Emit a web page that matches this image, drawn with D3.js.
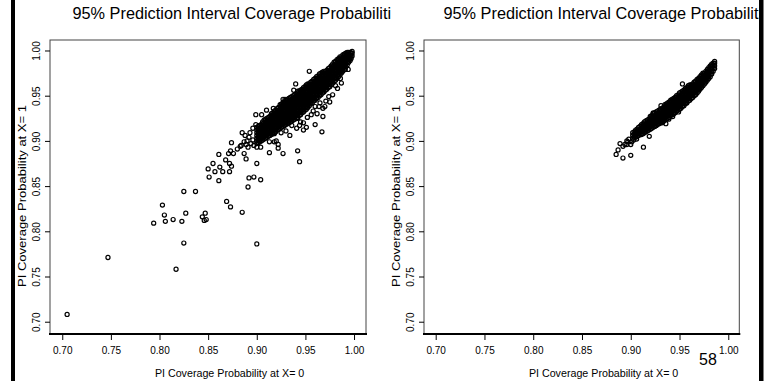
<!DOCTYPE html>
<html>
<head>
<meta charset="utf-8">
<script src="https://cdn.jsdelivr.net/npm/d3@7"></script>
<style>
  body { margin: 0; background: #fff; }
</style>
</head>
<body>
<svg id="chart" width="773" height="381"></svg>
<script>
const tickValues = [0.70, 0.75, 0.80, 0.85, 0.90, 0.95, 1.00];
const titleText = '95% Prediction Interval Coverage Probabilities';
const xLabel = 'PI Coverage Probability at X= 0';
const yLabel = 'PI Coverage Probability at X= 1';
const pageNumber = '58';

// left panel: loose points [x, y]
const leftPoints = [
  [0.705,0.708],[0.747,0.771],[0.794,0.809],[0.803,0.829],[0.805,0.818],[0.806,0.811],[0.814,0.813],
  [0.817,0.758],[0.823,0.811],[0.825,0.844],[0.825,0.787],[0.827,0.820],[0.837,0.844],[0.844,0.816],
  [0.846,0.812],[0.847,0.820],[0.848,0.813],[0.850,0.869],[0.851,0.860],[0.855,0.875],[0.857,0.866],
  [0.861,0.856],[0.861,0.885],[0.862,0.871],[0.865,0.866],[0.868,0.879],[0.869,0.833],[0.871,0.886],
  [0.872,0.866],[0.872,0.875],[0.873,0.827],[0.873,0.889],[0.874,0.872],[0.874,0.898],[0.876,0.886],
  [0.880,0.891],[0.883,0.894],[0.885,0.821],[0.885,0.909],[0.887,0.886],[0.888,0.906],[0.889,0.880],
  [0.889,0.896],[0.891,0.849],[0.892,0.859],[0.897,0.860],[0.900,0.786],[0.900,0.875],[0.900,0.893],
  [0.904,0.857],[0.904,0.893],[0.896,0.901],[0.896,0.914],[0.899,0.918],[0.899,0.929],[0.905,0.929],
  [0.910,0.934],[0.913,0.887],[0.913,0.899],[0.917,0.936],[0.918,0.899],[0.918,0.908],[0.920,0.900],
  [0.922,0.896],[0.922,0.892],[0.927,0.886],[0.927,0.946],[0.929,0.946],[0.924,0.918],[0.925,0.909],
  [0.932,0.924],[0.938,0.956],[0.940,0.963],[0.941,0.914],[0.942,0.889],[0.942,0.925],[0.944,0.877],
  [0.948,0.912],[0.948,0.920],[0.954,0.977],[0.956,0.929],[0.960,0.918],[0.960,0.938],[0.964,0.938],
  [0.965,0.942],[0.967,0.910],[0.968,0.927],[0.968,0.936],[0.970,0.938],[0.975,0.943],[0.978,0.951],
  [0.981,0.961],[0.987,0.964],[0.991,0.979],[0.994,0.979],
  [0.890,0.900],[0.892,0.904],[0.894,0.897],[0.893,0.909],[0.887,0.899],[0.884,0.895],[0.891,0.893],
  [0.897,0.895],[0.936,0.917],[0.945,0.921],[0.952,0.926],[0.958,0.933],[0.962,0.930],[0.971,0.944],
  [0.974,0.949],[0.983,0.958],[0.986,0.969],[0.930,0.911],[0.934,0.906],[0.951,0.915],[0.944,0.917]
];

// left panel: dense core, read column by column [x, [y, ...]]
const leftBand = [
  [0.900, [0.897,0.900,0.903,0.906,0.909,0.912,0.915]],
  [0.9015,[0.898,0.901,0.904,0.907,0.910,0.913,0.916]],
  [0.903, [0.899,0.902,0.905,0.908,0.911,0.914,0.917]],
  [0.9045,[0.900,0.903,0.906,0.909,0.912,0.915,0.918]],
  [0.906, [0.901,0.904,0.907,0.910,0.913,0.916,0.919,0.921]],
  [0.9075,[0.902,0.905,0.908,0.911,0.914,0.917,0.920,0.923]],
  [0.909, [0.903,0.906,0.909,0.912,0.915,0.918,0.921,0.924]],
  [0.9105,[0.904,0.907,0.910,0.913,0.916,0.919,0.922,0.925]],
  [0.912, [0.905,0.908,0.911,0.914,0.917,0.920,0.923,0.926]],
  [0.9135,[0.906,0.909,0.912,0.915,0.918,0.921,0.924,0.927]],
  [0.915, [0.907,0.910,0.913,0.916,0.919,0.922,0.925,0.928,0.930]],
  [0.9165,[0.908,0.911,0.914,0.917,0.920,0.923,0.926,0.929,0.931]],
  [0.918, [0.909,0.912,0.915,0.918,0.921,0.924,0.927,0.930,0.933]],
  [0.9195,[0.910,0.913,0.916,0.919,0.922,0.925,0.928,0.931,0.934]],
  [0.921, [0.912,0.915,0.918,0.921,0.924,0.927,0.930,0.933,0.936]],
  [0.9225,[0.913,0.916,0.919,0.922,0.925,0.928,0.931,0.934,0.937]],
  [0.924, [0.914,0.917,0.920,0.923,0.926,0.929,0.932,0.935,0.938,0.940]],
  [0.9255,[0.915,0.918,0.921,0.924,0.927,0.930,0.933,0.936,0.939,0.941]],
  [0.927, [0.916,0.919,0.922,0.925,0.928,0.931,0.934,0.937,0.940,0.942]],
  [0.9285,[0.917,0.920,0.923,0.926,0.929,0.932,0.935,0.938,0.941,0.943]],
  [0.930, [0.918,0.921,0.924,0.927,0.930,0.933,0.936,0.939,0.942,0.945]],
  [0.9315,[0.919,0.922,0.925,0.928,0.931,0.934,0.937,0.940,0.943,0.946]],
  [0.933, [0.920,0.923,0.926,0.929,0.932,0.935,0.938,0.941,0.944,0.947]],
  [0.9345,[0.921,0.924,0.927,0.930,0.933,0.936,0.939,0.942,0.945,0.948]],
  [0.936, [0.922,0.925,0.928,0.931,0.934,0.937,0.940,0.943,0.946,0.949]],
  [0.9375,[0.923,0.926,0.929,0.932,0.935,0.938,0.941,0.944,0.947,0.950]],
  [0.939, [0.924,0.927,0.930,0.933,0.936,0.939,0.942,0.945,0.948,0.951]],
  [0.9405,[0.925,0.928,0.931,0.934,0.937,0.940,0.943,0.946,0.949,0.952]],
  [0.942, [0.926,0.929,0.932,0.935,0.938,0.941,0.944,0.947,0.950,0.953,0.955]],
  [0.9435,[0.928,0.931,0.934,0.937,0.940,0.943,0.946,0.949,0.952,0.955]],
  [0.945, [0.929,0.932,0.935,0.938,0.941,0.944,0.947,0.950,0.953,0.956]],
  [0.9465,[0.931,0.934,0.937,0.940,0.943,0.946,0.949,0.952,0.955,0.957]],
  [0.948, [0.932,0.935,0.938,0.941,0.944,0.947,0.950,0.953,0.956,0.959]],
  [0.9495,[0.934,0.937,0.940,0.943,0.946,0.949,0.952,0.955,0.958,0.960]],
  [0.951, [0.935,0.938,0.941,0.944,0.947,0.950,0.953,0.956,0.959,0.962]],
  [0.9525,[0.937,0.940,0.943,0.946,0.949,0.952,0.955,0.958,0.961,0.963]],
  [0.954, [0.939,0.942,0.945,0.948,0.951,0.954,0.957,0.960,0.963]],
  [0.9555,[0.941,0.944,0.947,0.950,0.953,0.956,0.959,0.962,0.965]],
  [0.957, [0.942,0.945,0.948,0.951,0.954,0.957,0.960,0.963,0.966]],
  [0.9585,[0.944,0.947,0.950,0.953,0.956,0.959,0.962,0.965,0.968]],
  [0.960, [0.945,0.948,0.951,0.954,0.957,0.960,0.963,0.966,0.969]],
  [0.9615,[0.947,0.950,0.953,0.956,0.959,0.962,0.965,0.968,0.971]],
  [0.963, [0.948,0.951,0.954,0.957,0.960,0.963,0.966,0.969,0.972]],
  [0.9645,[0.950,0.953,0.956,0.959,0.962,0.965,0.968,0.971,0.974]],
  [0.966, [0.951,0.954,0.957,0.960,0.963,0.966,0.969,0.972,0.975]],
  [0.9675,[0.953,0.956,0.959,0.962,0.965,0.968,0.971,0.974,0.976]],
  [0.969, [0.954,0.957,0.960,0.963,0.966,0.969,0.972,0.975,0.977]],
  [0.9705,[0.956,0.959,0.962,0.965,0.968,0.971,0.974,0.977]],
  [0.972, [0.957,0.960,0.963,0.966,0.969,0.972,0.975,0.978]],
  [0.9735,[0.959,0.962,0.965,0.968,0.971,0.974,0.977,0.980]],
  [0.975, [0.960,0.963,0.966,0.969,0.972,0.975,0.978,0.981]],
  [0.9765,[0.962,0.965,0.968,0.971,0.974,0.977,0.980,0.983]],
  [0.978, [0.964,0.967,0.970,0.973,0.976,0.979,0.982,0.985]],
  [0.9795,[0.966,0.969,0.972,0.975,0.978,0.981,0.984,0.987]],
  [0.981, [0.967,0.970,0.973,0.976,0.979,0.982,0.985,0.988]],
  [0.9825,[0.969,0.972,0.975,0.978,0.981,0.984,0.987,0.990]],
  [0.984, [0.971,0.974,0.977,0.980,0.983,0.986,0.989,0.991]],
  [0.9855,[0.973,0.976,0.979,0.982,0.985,0.988,0.991,0.993]],
  [0.987, [0.975,0.978,0.981,0.984,0.987,0.990,0.993]],
  [0.9885,[0.977,0.980,0.983,0.986,0.989,0.992,0.995]],
  [0.990, [0.979,0.982,0.985,0.988,0.991,0.994,0.996]],
  [0.9915,[0.982,0.985,0.988,0.991,0.994,0.997]],
  [0.993, [0.984,0.987,0.990,0.993,0.996,0.998]],
  [0.9945,[0.987,0.990,0.993,0.996,0.998]],
  [0.996, [0.989,0.992,0.995,0.998]],
  [0.997, [0.991,0.994,0.997]],
  [0.998, [0.994,0.997,0.999]]
];

// right panel: loose points [x, y]
const rightPoints = [
  [0.885,0.885],[0.887,0.890],[0.892,0.881],[0.889,0.897],[0.892,0.894],[0.894,0.896],[0.896,0.896],
  [0.898,0.902],[0.900,0.896],[0.900,0.884],[0.901,0.899],[0.897,0.899],[0.896,0.900],[0.903,0.901],
  [0.906,0.902],[0.906,0.908],[0.913,0.893],[0.919,0.905],[0.923,0.931],[0.926,0.917],[0.931,0.939],
  [0.932,0.920],[0.933,0.921],[0.936,0.919],[0.939,0.924],[0.943,0.927],[0.949,0.932],[0.953,0.963],
  [0.957,0.943],[0.969,0.957]
];

// right panel: dense core [x, [y, ...]]
const rightBand = [
  [0.902, [0.903,0.906,0.909]],
  [0.9035,[0.904,0.907,0.910]],
  [0.905, [0.904,0.907,0.910,0.912]],
  [0.9065,[0.905,0.908,0.911,0.913]],
  [0.908, [0.906,0.909,0.912,0.915]],
  [0.9095,[0.907,0.910,0.913,0.916]],
  [0.911, [0.907,0.910,0.913,0.916,0.918]],
  [0.9125,[0.908,0.911,0.914,0.917,0.919]],
  [0.914, [0.909,0.912,0.915,0.918,0.921]],
  [0.9155,[0.910,0.913,0.916,0.919,0.922]],
  [0.917, [0.911,0.914,0.917,0.920,0.923]],
  [0.9185,[0.912,0.915,0.918,0.921,0.924]],
  [0.920, [0.913,0.916,0.919,0.922,0.925,0.927]],
  [0.9215,[0.914,0.917,0.920,0.923,0.926,0.928]],
  [0.923, [0.915,0.918,0.921,0.924,0.927,0.930]],
  [0.9245,[0.916,0.919,0.922,0.925,0.928,0.931]],
  [0.926, [0.917,0.920,0.923,0.926,0.929,0.932]],
  [0.9275,[0.918,0.921,0.924,0.927,0.930,0.933]],
  [0.929, [0.919,0.922,0.925,0.928,0.931,0.934]],
  [0.9305,[0.920,0.923,0.926,0.929,0.932,0.935]],
  [0.932, [0.921,0.924,0.927,0.930,0.933,0.936]],
  [0.9335,[0.922,0.925,0.928,0.931,0.934,0.937]],
  [0.935, [0.923,0.926,0.929,0.932,0.935,0.938,0.940]],
  [0.9365,[0.924,0.927,0.930,0.933,0.936,0.939,0.941]],
  [0.938, [0.925,0.928,0.931,0.934,0.937,0.940,0.942]],
  [0.9395,[0.926,0.929,0.932,0.935,0.938,0.941,0.943]],
  [0.941, [0.928,0.931,0.934,0.937,0.940,0.943,0.945]],
  [0.9425,[0.929,0.932,0.935,0.938,0.941,0.944,0.946]],
  [0.944, [0.930,0.933,0.936,0.939,0.942,0.945,0.947]],
  [0.9455,[0.931,0.934,0.937,0.940,0.943,0.946,0.948]],
  [0.947, [0.933,0.936,0.939,0.942,0.945,0.948,0.950]],
  [0.9485,[0.934,0.937,0.940,0.943,0.946,0.949,0.951]],
  [0.950, [0.935,0.938,0.941,0.944,0.947,0.950,0.953]],
  [0.9515,[0.936,0.939,0.942,0.945,0.948,0.951,0.954]],
  [0.953, [0.938,0.941,0.944,0.947,0.950,0.953,0.955]],
  [0.9545,[0.939,0.942,0.945,0.948,0.951,0.954,0.956]],
  [0.956, [0.941,0.944,0.947,0.950,0.953,0.956,0.958]],
  [0.9575,[0.942,0.945,0.948,0.951,0.954,0.957,0.959]],
  [0.959, [0.944,0.947,0.950,0.953,0.956,0.959,0.961]],
  [0.9605,[0.945,0.948,0.951,0.954,0.957,0.960,0.962]],
  [0.962, [0.947,0.950,0.953,0.956,0.959,0.962]],
  [0.9635,[0.948,0.951,0.954,0.957,0.960,0.963]],
  [0.965, [0.950,0.953,0.956,0.959,0.962,0.965]],
  [0.9665,[0.951,0.954,0.957,0.960,0.963,0.966]],
  [0.968, [0.953,0.956,0.959,0.962,0.965,0.968]],
  [0.9695,[0.955,0.958,0.961,0.964,0.967,0.969]],
  [0.971, [0.957,0.960,0.963,0.966,0.969,0.971]],
  [0.9725,[0.959,0.962,0.965,0.968,0.971,0.973]],
  [0.974, [0.961,0.964,0.967,0.970,0.973,0.975]],
  [0.9755,[0.963,0.966,0.969,0.972,0.975]],
  [0.977, [0.965,0.968,0.971,0.974,0.977]],
  [0.9785,[0.967,0.970,0.973,0.976,0.979]],
  [0.980, [0.969,0.972,0.975,0.978,0.981]],
  [0.9815,[0.971,0.974,0.977,0.980,0.983]],
  [0.983, [0.974,0.977,0.980,0.983,0.985]],
  [0.9845,[0.977,0.980,0.983,0.986]],
  [0.986, [0.980,0.983,0.986,0.988]]
];

const FONT = '"Liberation Sans", Arial, Helvetica, sans-serif';
const boxTop = 40, boxBottom = 334;
const yDomain = [0.6864, 1.0116];
const fmt = d3.format('.2f');

const svg = d3.select('#chart');
svg.append('rect').attr('width', 773).attr('height', 381).attr('fill', '#fff');

const panels = [
  { id: 'l', points: leftPoints, band: leftBand, left: 50, right: 366,
    xDomain: [0.6874, 1.0123], clip: [15, 391], titleX: 72.5 },
  { id: 'r', points: rightPoints, band: rightBand, left: 424, right: 739.3,
    xDomain: [0.688, 1.0113], clip: [391, 759], titleX: 443.5 }
];

function drawPanel(p) {
  const x = d3.scaleLinear().domain(p.xDomain).range([p.left, p.right]);
  const y = d3.scaleLinear().domain(yDomain).range([boxBottom, boxTop]);
  const g = svg.append('g').attr('font-family', FONT);

  svg.append('clipPath').attr('id', 'clip-' + p.id)
    .append('rect').attr('x', p.clip[0]).attr('y', 0)
    .attr('width', p.clip[1] - p.clip[0]).attr('height', 381);

  // title, cut off at the panel edge as in the scan
  g.append('text')
    .attr('clip-path', `url(#clip-${p.id})`)
    .attr('x', p.titleX).attr('y', 18.5)
    .attr('font-size', 16.3)
    .text(titleText);

  const all = p.band.flatMap(([bx, ys]) => ys.map(v => [bx, v])).concat(p.points);

  g.append('g').selectAll('circle')
    .data(all)
    .join('circle')
    .attr('cx', d => x(d[0]))
    .attr('cy', d => y(d[1]))
    .attr('r', 2.05)
    .attr('fill', 'none')
    .attr('stroke', '#000')
    .attr('stroke-width', 1.2);

  // box
  g.append('rect')
    .attr('x', p.left).attr('y', boxTop)
    .attr('width', p.right - p.left).attr('height', boxBottom - boxTop)
    .attr('fill', 'none').attr('stroke', '#444').attr('stroke-width', 1);
  g.append('line')
    .attr('x1', p.left - 1).attr('x2', p.right + 1)
    .attr('y1', boxBottom).attr('y2', boxBottom)
    .attr('stroke', '#000').attr('stroke-width', 1.8);

  const xAxis = g.append('g')
    .attr('transform', `translate(0,${boxBottom})`)
    .call(d3.axisBottom(x).tickValues(tickValues).tickSize(6).tickPadding(7).tickFormat(fmt));
  xAxis.select('.domain').remove();
  xAxis.attr('font-family', FONT).attr('font-size', 10);
  xAxis.selectAll('.tick line').attr('stroke', '#000');

  const yAxis = g.append('g')
    .attr('transform', `translate(${p.left},0)`)
    .call(d3.axisLeft(y).tickValues(tickValues).tickSize(5).tickFormat(fmt));
  yAxis.select('.domain').remove();
  yAxis.attr('font-family', FONT).attr('font-size', 10).attr('text-anchor', 'middle');
  yAxis.selectAll('.tick line').attr('stroke', '#000');
  yAxis.selectAll('.tick text')
    .attr('x', 0).attr('dy', 0)
    .attr('transform', 'translate(-10,0) rotate(-90)');

  g.append('text')
    .attr('x', p.left + 179.6).attr('y', 376.7)
    .attr('text-anchor', 'middle').attr('font-size', 10.7)
    .text(xLabel);

  g.append('text')
    .attr('transform', `translate(${p.left - 24},196) rotate(-90)`)
    .attr('text-anchor', 'middle').attr('font-size', 11)
    .attr('textLength', 182).attr('lengthAdjust', 'spacingAndGlyphs')
    .text(yLabel);
}

panels.forEach(drawPanel);

svg.append('text')
  .attr('x', 708).attr('y', 365)
  .attr('text-anchor', 'middle')
  .attr('font-family', FONT).attr('font-size', 16)
  .text(pageNumber);

// dark scan edges
svg.append('rect').attr('x', 11).attr('y', 0).attr('width', 4).attr('height', 381).attr('fill', '#000');
svg.append('rect').attr('x', 759).attr('y', 0).attr('width', 4.5).attr('height', 381).attr('fill', '#000');
</script>
</body>
</html>
